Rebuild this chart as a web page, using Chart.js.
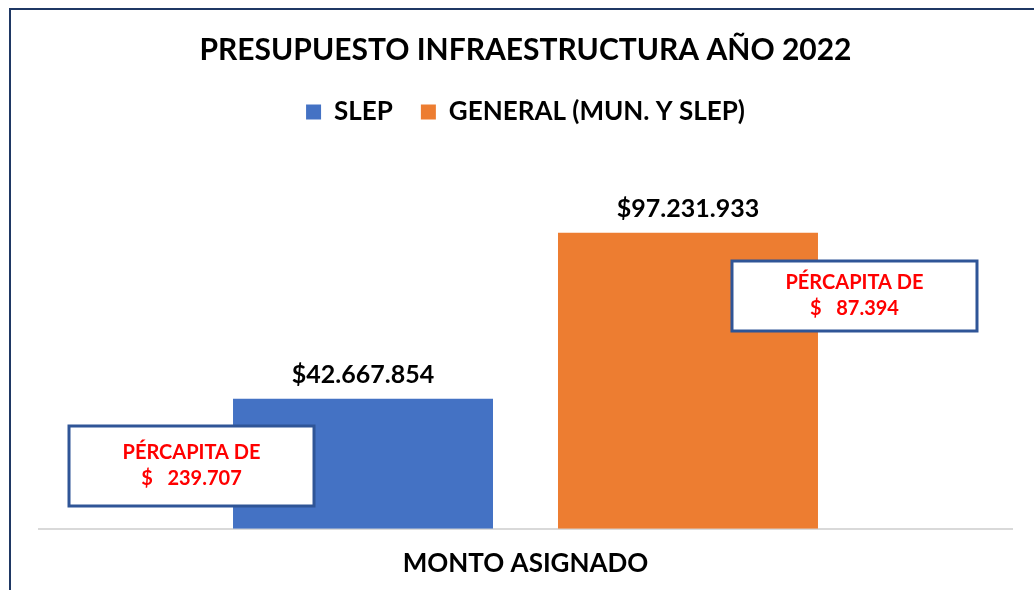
<!DOCTYPE html>
<html>
<head>
<meta charset="utf-8">
<script src="https://cdn.jsdelivr.net/npm/chart.js@4"></script>
<style>
  html, body { margin: 0; padding: 0; background: #fff; overflow: hidden; }
  #wrap { width: 1034px; height: 590px; position: relative; }
</style>
</head>
<body>
<div id="wrap"><canvas id="barGraph" width="1034" height="590"></canvas></div>
<script>
const categories = ["MONTO ASIGNADO"];
const seriesNames = ["SLEP", "GENERAL (MUN. Y SLEP)"];
const slepValues = [42667854];
const generalValues = [97231933];
const perCapita = ["239.707", "87.394"];

const BLUE = "#4472C4";
const ORANGE = "#ED7D31";
const FONT = "Lato, 'DejaVu Sans', sans-serif";

const fmtMoney = (v) => "$" + v.toLocaleString("de-DE");

// outer frame of the chart object
const framePlugin = {
  id: "frame",
  beforeDraw(chart) {
    const c = chart.ctx;
    c.save();
    c.fillStyle = "#fff";
    c.fillRect(0, 0, chart.width, chart.height);
    c.strokeStyle = "#1F3864";
    c.lineWidth = 2;
    c.strokeRect(10, 9, chart.width + 20, chart.height + 20);
    c.restore();
  },
};

// value labels above bars + per capita callouts
const labelsPlugin = {
  id: "valueLabels",
  afterDatasetsDraw(chart) {
    const c = chart.ctx;
    c.save();
    c.textAlign = "center";
    c.textBaseline = "middle";
    c.font = "bold 25px " + FONT;
    c.fillStyle = "#000";
    chart.data.datasets.forEach((ds, i) => {
      chart.getDatasetMeta(i).data.forEach((bar, j) => {
        c.fillText(fmtMoney(ds.data[j]), bar.x, bar.y - 24);
      });
    });

    // callout boxes, placed next to each bar
    const boxes = [
      { dx: -171.5, cy: 466 },
      { dx: 166.5, cy: 296 },
    ];
    boxes.forEach((b, i) => {
      const bar = chart.getDatasetMeta(i).data[0];
      const cx = bar.x + b.dx;
      const w = 245, h = b.cy > 400 ? 80 : 70;
      c.fillStyle = "#fff";
      c.fillRect(cx - w / 2, b.cy - h / 2, w, h);
      c.strokeStyle = "#2F5597";
      c.lineWidth = 3;
      c.strokeRect(cx - w / 2, b.cy - h / 2, w, h);
      c.fillStyle = "#FF0000";
      c.font = "bold 20px " + FONT;
      c.fillText("PÉRCAPITA DE", cx, b.cy - 13);
      c.fillText("$   " + perCapita[i], cx, b.cy + 13);
    });
    c.restore();
  },
};

const ctx = document.getElementById("barGraph").getContext("2d");
const myChart = new Chart(ctx, {
  type: "bar",
  data: {
    labels: categories,
    datasets: [
      {
        label: seriesNames[0],
        data: slepValues,
        backgroundColor: BLUE,
        borderWidth: 0,
        categoryPercentage: 0.668,
        barPercentage: 0.8,
      },
      {
        label: seriesNames[1],
        data: generalValues,
        backgroundColor: ORANGE,
        borderWidth: 0,
        categoryPercentage: 0.668,
        barPercentage: 0.8,
      },
    ],
  },
  options: {
    responsive: false,
    animation: false,
    layout: {
      padding: { top: 28, left: 39, right: 22, bottom: -8 },
    },
    plugins: {
      title: {
        display: true,
        text: "PRESUPUESTO INFRAESTRUCTURA AÑO 2022",
        color: "#000",
        font: { family: FONT, size: 30, weight: "bold", lineHeight: 0.8 },
        padding: { top: 10, bottom: 9 },
      },
      legend: {
        display: true,
        labels: {
          color: "#000",
          font: { family: FONT, size: 26, weight: "bold" },
          boxWidth: 15,
          boxHeight: 15,
          padding: 28,
        },
      },
      tooltip: { enabled: false },
    },
    scales: {
      x: {
        grid: { display: false, drawTicks: false },
        border: { display: true, color: "#D9D9D9", width: 2 },
        ticks: {
          color: "#000",
          padding: 19,
          font: { family: FONT, size: 26, weight: "bold" },
        },
      },
      y: {
        display: false,
        min: 0,
        max: 129300000,
      },
    },
  },
  plugins: [framePlugin, labelsPlugin],
});
</script>
</body>
</html>
